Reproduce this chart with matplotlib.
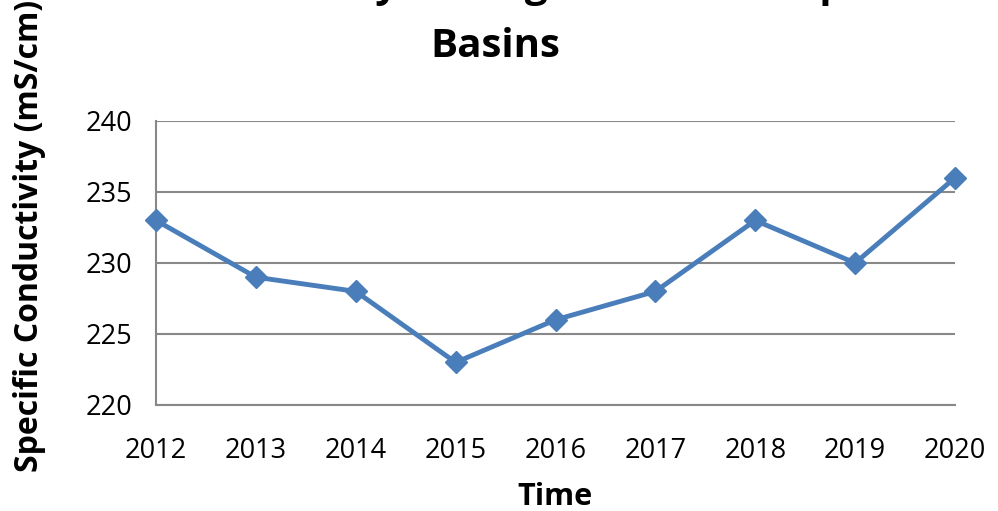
import matplotlib
matplotlib.use("Agg")
import matplotlib.pyplot as plt

years = ["2012", "2013", "2014", "2015", "2016", "2017", "2018", "2019", "2020"]
conductivity = [233, 229, 228, 223, 226, 228, 233, 230, 236]
yticks = [220, 225, 230, 235, 240]

plt.rcParams['font.family'] = ['Open Sans', 'DejaVu Sans']

fig = plt.figure(figsize=(9.98, 5.11), dpi=100)
ax = fig.add_axes([156/998, 1-405/511, (955-156)/998, (405-121)/511])

x = list(range(len(years)))
ax.plot(x, conductivity, color='#4A7EBB', linewidth=3.5, marker='D', markersize=11,
        markerfacecolor='#4A7EBB', markeredgecolor='#4A7EBB', clip_on=False, zorder=3)

ax.set_xlim(0, len(years)-1)
ax.set_ylim(220, 240)
ax.set_yticks(yticks)
ax.set_xticks(x)
ax.set_xticklabels(years)
ax.tick_params(axis='both', length=0, labelsize=19.5, colors='black')
ax.tick_params(axis='y', pad=17)
ax.tick_params(axis='x', pad=23)
ax.grid(axis='y', color='#888888', linewidth=1.5)
ax.set_axisbelow(True)
for s in ['top', 'right']:
    ax.spines[s].set_visible(False)
for s in ['left', 'bottom']:
    ax.spines[s].set_color('#888888')
    ax.spines[s].set_linewidth(1.5)

fig.text(555/998, 1-497/511, 'Time', fontsize=22, fontweight='bold', ha='center', va='center')
fig.text(30/998, 1-236/511, 'Specific Conductivity (mS/cm)', rotation=90,
         fontsize=23, fontweight='bold', ha='center', va='center')
fig.text(495/998, 1-57/511, 'Basins',
         fontsize=29, fontweight='bold', ha='center', va='baseline')
fig.text(525/998, 1+3/511, 'Conductivity Averages for All Sampled',
         fontsize=29, fontweight='bold', ha='center', va='baseline')

fig.savefig('out.png', dpi=100)
